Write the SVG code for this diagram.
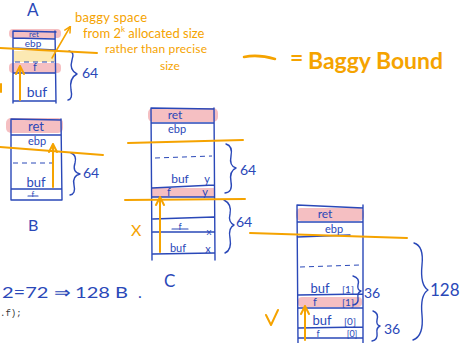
<svg xmlns="http://www.w3.org/2000/svg" width="464" height="343" viewBox="0 0 464 343">
<style>
.b{stroke:#2a48b8;stroke-width:1.4;fill:none;stroke-linecap:round;stroke-linejoin:round}
.bt{stroke:#2a48b8;stroke-width:1.1;fill:none;stroke-linecap:round}
.d{stroke:#2a48b8;stroke-width:1;fill:none;stroke-dasharray:5 4}
.o{stroke:#f5a300;stroke-width:2;fill:none;stroke-linecap:round;stroke-linejoin:round}
.pk{fill:#f2a9ad;opacity:0.75}
.yl{fill:#fbe3a0;opacity:0.8}
text{font-family:"Lato","Noto Sans",sans-serif}
.t{fill:#2a48b8;font-size:12px;text-anchor:middle}
.tl{fill:#2a48b8;font-size:14px}
.ot{fill:#f5a300;font-size:13px}
.big{fill:#f5a300;font-size:23px;font-weight:bold}
</style>
<defs>
<marker id="ah" viewBox="0 0 10 10" refX="8" refY="5" markerWidth="5" markerHeight="5" orient="auto-start-reverse">
<path d="M1 1 L9 5 L1 9" fill="none" stroke="#f5a300" stroke-width="2" stroke-linecap="round"/>
</marker>
</defs>
<rect width="464" height="343" fill="#ffffff"/>

<!-- Stack A -->
<g id="stackA">
<text class="tl" x="27" y="16" style="font-size:17px">A</text>
<rect class="pk" x="9" y="29" width="52" height="9" rx="4"/>
<rect class="yl" x="14" y="51" width="41" height="11"/>
<rect class="pk" x="9" y="63" width="52" height="10" rx="4"/>
<path class="b" d="M13 31 L13 103 M55 31 L56 103 M13 31 L56 32 M13 38 L55 39 M13 48 L55 50 M13 73 L55 73 M13 101 L56 101"/>
<path class="d" d="M15 62 L54 62"/>
<text class="t" x="34" y="36.5" style="font-size:8px">ret</text>
<text class="t" x="33" y="47" style="font-size:10px">ebp</text>
<text class="t" x="35" y="71" style="font-size:11px">f</text>
<text class="t" x="37" y="97" style="font-size:14px">buf</text>
<path class="b" d="M69 51 Q75 52 72 60 Q69 70 77 74 Q69 78 71 90 Q73 99 68 100"/>
<text class="tl" x="82" y="78">64</text>
</g>

<!-- Stack B -->
<g id="stackB">
<rect class="pk" x="6" y="118" width="57" height="15" rx="5"/>
<path class="b" d="M11 119 L11 200 M61 119 L62 200 M11 119 L61 120 M11 135 L61 135 M11 189 L61 189 M11 200 L62 200"/>
<path class="d" d="M13 163 L55 163"/>
<text class="t" x="36" y="131" style="font-size:13px">ret</text>
<text class="t" x="37" y="145" style="font-size:11px">ebp</text>
<text class="t" x="36" y="187" style="font-size:13px">buf</text>
<text class="t" x="33" y="197" style="font-size:8px">f</text>
<path class="bt" d="M28 196 L38 196"/>
<path class="b" d="M71 153 Q77 155 75 163 Q72 172 80 174 Q72 176 74 185 Q76 194 70 195"/>
<text class="tl" x="83" y="178">64</text>
<text class="tl" x="28" y="231" style="font-size:16px">B</text>
</g>

<!-- Stack C -->
<g id="stackC">
<rect class="pk" x="148" y="108" width="70" height="14" rx="5"/>
<rect class="pk" x="152" y="188" width="62" height="9"/>
<path class="b" d="M151 108 L152 260 M214 108 L215 260 M151 108 L214 109 M151 123 L214 123 M152 188 L214 185 M152 197 L214 197 M153 219 L214 217 M153 232 L214 232 M153 254 L214 253"/>
<path class="d" d="M155 158 L212 156"/>
<text class="t" x="175" y="119" style="font-size:12px">ret</text>
<text class="t" x="177" y="133" style="font-size:11px">ebp</text>
<text class="t" x="180" y="183" style="font-size:12px">buf</text>
<text class="t" x="207" y="183" style="font-size:11px">y</text>
<text class="t" x="169" y="196" style="font-size:11px">f</text>
<text class="t" x="205" y="196" style="font-size:11px">y</text>
<text class="t" x="180" y="230" style="font-size:9px">f</text>
<path class="bt" d="M172 229 L188 229"/>
<text class="t" x="209" y="235" style="font-size:10px">x</text>
<text class="t" x="178" y="252" style="font-size:11px">buf</text>
<text class="t" x="208" y="253" style="font-size:11px">x</text>
<path class="b" d="M226 144 Q233 146 231 156 Q229 166 236 168 Q229 171 231 182 Q233 192 225 193"/>
<text class="tl" x="240" y="175">64</text>
<path class="b" d="M224 200 Q232 204 230 214 Q228 222 234 225 Q228 228 230 238 Q232 250 225 253"/>
<text class="tl" x="236" y="227">64</text>
<text class="tl" x="164" y="287" style="font-size:17px">C</text>
</g>

<!-- Stack D -->
<g id="stackD">
<rect class="pk" x="296" y="208" width="68" height="13" rx="5"/>
<rect class="pk" x="298" y="297" width="64" height="10" rx="4"/>
<path class="b" d="M297 205 L298 343 M363 205 L363 343 M297 205 L363 208 M297 222 L363 222 M297 237 L350 235 M298 295 L363 294 M298 308 L363 308 M298 328 L363 327 M298 338 L363 338"/>
<path class="d" d="M300 267 L360 265"/>
<text class="t" x="325" y="218" style="font-size:12px">ret</text>
<text class="t" x="334" y="233" style="font-size:11px">ebp</text>
<text class="t" x="320" y="293" style="font-size:13px">buf</text>
<text class="t" x="348" y="293" style="font-size:10px">[1]</text>
<text class="t" x="315" y="306" style="font-size:11px">f</text>
<text class="t" x="348" y="306" style="font-size:10px">[1]</text>
<text class="t" x="322" y="325" style="font-size:13px">buf</text>
<text class="t" x="350" y="325" style="font-size:10px">[0]</text>
<text class="t" x="318" y="337" style="font-size:9px">f</text>
<text class="t" x="352" y="337" style="font-size:9px">[0]</text>
<path class="b" d="M353 276 Q360 278 358 285 Q357 290 361 291 Q357 293 358 298 Q359 304 353 305"/>
<text class="tl" x="364" y="298">36</text>
<path class="b" d="M373 311 Q379 313 377 320 Q376 325 380 326 Q376 328 377 333 Q378 340 372 341"/>
<text class="tl" x="384" y="334">36</text>
<path class="b" d="M414 243 Q424 246 422 265 Q420 285 428 290 Q420 295 422 315 Q424 336 413 340"/>
<text class="tl" x="430" y="296" style="font-size:17px">128</text>
</g>

<!-- Annotation and legend -->
<g id="annotation">
<text class="ot" x="75" y="22" textLength="72">baggy space</text>
<text class="ot" x="83" y="38">from 2<tspan dy="-6" style="font-size:8px">k</tspan><tspan dy="6"> allocated size</tspan></text>
<text class="ot" x="105" y="53" textLength="102" style="font-size:12px">rather than precise</text>
<text class="ot" x="160" y="70" style="font-size:12px">size</text>
</g>
<g id="legend">
<path class="o" d="M244 57 Q258 54 275 59" style="stroke-width:2.5"/>
<text class="big" x="290" y="66">=</text>
<text class="big" x="308" y="69" textLength="135" lengthAdjust="spacingAndGlyphs">Baggy Bound</text>
</g>
<g id="notes">
<text x="2" y="298" textLength="126" lengthAdjust="spacingAndGlyphs" style="fill:#2a48b8;font-size:16px;font-family:'Lato',sans-serif">2=72 ⇒ 128 B</text>
<text x="138" y="298" style="fill:#2a48b8;font-size:16px;font-family:'Lato',sans-serif">.</text>
<text x="0" y="316" style="fill:#333;font-size:9px;font-family:'Liberation Mono',monospace">.f);</text>
<text x="131" y="236" style="fill:#f5a300;font-size:16px">X</text>
<path class="o" d="M266 315 L271 325 L278 310"/>
</g>

<!-- Connectors / baggy bound lines -->
<g id="connectors">
<path class="o" d="M0 48 L97 53"/>
<path class="o" d="M0 147 L103 155"/>
<path class="o" d="M128 143 L243 140"/>
<path class="o" d="M125 200 L245 199"/>
<path class="o" d="M250 233 L407 238"/>
<path class="o" d="M20 100 L20 67" marker-end="url(#ah)"/>
<path class="o" d="M53 187 L53 145" marker-end="url(#ah)"/>
<path class="o" d="M160 252 L160 198" marker-end="url(#ah)"/>
<path class="o" d="M305 340 L305 307" marker-end="url(#ah)"/>
<path class="o" d="M52 58 L70 27" marker-end="url(#ah)" style="stroke-width:1.5"/>
<path class="o" d="M1 84 L1 92"/>
</g>
</svg>
